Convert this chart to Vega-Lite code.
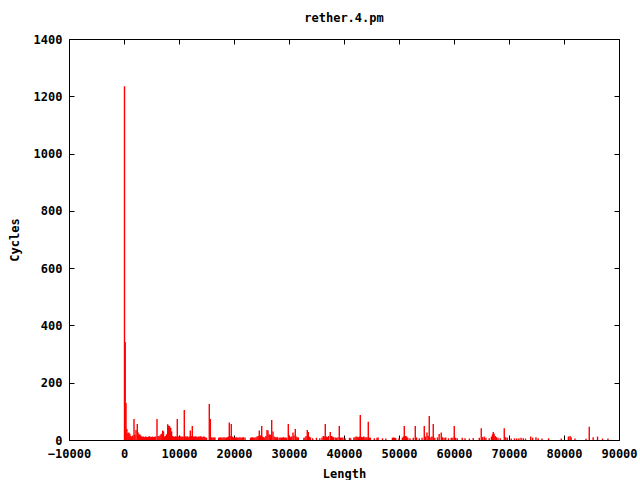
{
  "$schema": "https://vega.github.io/schema/vega-lite/v6.json",
  "width": 550,
  "height": 401,
  "autosize": {"type": "none"},
  "padding": {"left": 69, "top": 39, "right": 21, "bottom": 40},
  "background": "white",
  "title": {"text": "rether.4.pm", "font": "DejaVu Sans Mono", "fontSize": 12, "fontWeight": "bold", "color": "black", "offset": 8},
  "config": {
    "view": {"stroke": "black", "strokeWidth": 1},
    "axis": {
      "labelFont": "DejaVu Sans Mono", "labelFontSize": 12, "labelFontWeight": "bold", "labelColor": "black",
      "titleFont": "DejaVu Sans Mono", "titleFontSize": 12, "titleFontWeight": "bold", "titleColor": "black",
      "grid": false, "domain": false, "tickColor": "black", "tickSize": -5, "labelPadding": 12
    }
  },
  "data": {"values": [
    {"Length": 91, "Cycles": 1235}, {"Length": 218, "Cycles": 342}, {"Length": 364, "Cycles": 129}, {"Length": 520, "Cycles": 38},
    {"Length": 700, "Cycles": 24}, {"Length": 880, "Cycles": 26}, {"Length": 1060, "Cycles": 22}, {"Length": 1240, "Cycles": 14},
    {"Length": 1420, "Cycles": 12}, {"Length": 1600, "Cycles": 16}, {"Length": 1818, "Cycles": 73}, {"Length": 1960, "Cycles": 18},
    {"Length": 2182, "Cycles": 35}, {"Length": 2418, "Cycles": 56}, {"Length": 2560, "Cycles": 26}, {"Length": 2700, "Cycles": 18},
    {"Length": 2860, "Cycles": 20}, {"Length": 3040, "Cycles": 16}, {"Length": 3220, "Cycles": 12}, {"Length": 3400, "Cycles": 11},
    {"Length": 3580, "Cycles": 12}, {"Length": 3760, "Cycles": 10}, {"Length": 3940, "Cycles": 12}, {"Length": 4120, "Cycles": 11},
    {"Length": 4300, "Cycles": 10}, {"Length": 4480, "Cycles": 12}, {"Length": 4660, "Cycles": 13}, {"Length": 4840, "Cycles": 10},
    {"Length": 5020, "Cycles": 11}, {"Length": 5200, "Cycles": 12}, {"Length": 5380, "Cycles": 10}, {"Length": 5560, "Cycles": 11},
    {"Length": 5740, "Cycles": 12}, {"Length": 6000, "Cycles": 73}, {"Length": 6180, "Cycles": 14}, {"Length": 6360, "Cycles": 12},
    {"Length": 6540, "Cycles": 16}, {"Length": 6720, "Cycles": 20}, {"Length": 6880, "Cycles": 22}, {"Length": 7036, "Cycles": 33},
    {"Length": 7181, "Cycles": 30}, {"Length": 7360, "Cycles": 12}, {"Length": 7540, "Cycles": 14}, {"Length": 7720, "Cycles": 20},
    {"Length": 7945, "Cycles": 55}, {"Length": 8127, "Cycles": 50}, {"Length": 8309, "Cycles": 48}, {"Length": 8490, "Cycles": 42},
    {"Length": 8660, "Cycles": 30}, {"Length": 8820, "Cycles": 14}, {"Length": 9000, "Cycles": 12}, {"Length": 9180, "Cycles": 11},
    {"Length": 9360, "Cycles": 13}, {"Length": 9520, "Cycles": 12}, {"Length": 9690, "Cycles": 73}, {"Length": 9860, "Cycles": 12},
    {"Length": 10040, "Cycles": 11}, {"Length": 10220, "Cycles": 13}, {"Length": 10400, "Cycles": 12}, {"Length": 10580, "Cycles": 11},
    {"Length": 10760, "Cycles": 12}, {"Length": 10963, "Cycles": 105}, {"Length": 11140, "Cycles": 12}, {"Length": 11320, "Cycles": 11},
    {"Length": 11500, "Cycles": 13}, {"Length": 11680, "Cycles": 10}, {"Length": 11860, "Cycles": 12}, {"Length": 12054, "Cycles": 33},
    {"Length": 12240, "Cycles": 14}, {"Length": 12418, "Cycles": 49}, {"Length": 12600, "Cycles": 12}, {"Length": 12780, "Cycles": 11},
    {"Length": 12960, "Cycles": 13}, {"Length": 13140, "Cycles": 12}, {"Length": 13320, "Cycles": 10}, {"Length": 13500, "Cycles": 12},
    {"Length": 13680, "Cycles": 11}, {"Length": 13860, "Cycles": 13}, {"Length": 14040, "Cycles": 12}, {"Length": 14220, "Cycles": 10},
    {"Length": 14400, "Cycles": 11}, {"Length": 14580, "Cycles": 12}, {"Length": 14760, "Cycles": 10}, {"Length": 15000, "Cycles": 8},
    {"Length": 15508, "Cycles": 126}, {"Length": 15690, "Cycles": 73}, {"Length": 15860, "Cycles": 10}, {"Length": 16000, "Cycles": 9},
    {"Length": 16200, "Cycles": 8}, {"Length": 16360, "Cycles": 10}, {"Length": 16540, "Cycles": 9}, {"Length": 17200, "Cycles": 8},
    {"Length": 17400, "Cycles": 9}, {"Length": 17600, "Cycles": 10}, {"Length": 17800, "Cycles": 8}, {"Length": 18000, "Cycles": 9},
    {"Length": 18200, "Cycles": 10}, {"Length": 18400, "Cycles": 8}, {"Length": 18600, "Cycles": 9}, {"Length": 18800, "Cycles": 10},
    {"Length": 19000, "Cycles": 12}, {"Length": 19145, "Cycles": 61}, {"Length": 19300, "Cycles": 14}, {"Length": 19508, "Cycles": 56},
    {"Length": 19700, "Cycles": 12}, {"Length": 19900, "Cycles": 9}, {"Length": 20100, "Cycles": 8}, {"Length": 20300, "Cycles": 9},
    {"Length": 20500, "Cycles": 10}, {"Length": 20700, "Cycles": 8}, {"Length": 20900, "Cycles": 9}, {"Length": 21100, "Cycles": 10},
    {"Length": 21300, "Cycles": 8}, {"Length": 21500, "Cycles": 9}, {"Length": 21700, "Cycles": 10}, {"Length": 22000, "Cycles": 9},
    {"Length": 23000, "Cycles": 8}, {"Length": 23200, "Cycles": 9}, {"Length": 23400, "Cycles": 10}, {"Length": 23600, "Cycles": 8},
    {"Length": 23800, "Cycles": 9}, {"Length": 24000, "Cycles": 10}, {"Length": 24200, "Cycles": 12}, {"Length": 24400, "Cycles": 14},
    {"Length": 24599, "Cycles": 33}, {"Length": 24800, "Cycles": 16}, {"Length": 25035, "Cycles": 49}, {"Length": 25200, "Cycles": 12},
    {"Length": 25400, "Cycles": 10}, {"Length": 25600, "Cycles": 9}, {"Length": 25800, "Cycles": 14}, {"Length": 26000, "Cycles": 35},
    {"Length": 26180, "Cycles": 33}, {"Length": 26400, "Cycles": 20}, {"Length": 26600, "Cycles": 18}, {"Length": 26853, "Cycles": 70},
    {"Length": 27090, "Cycles": 30}, {"Length": 27300, "Cycles": 12}, {"Length": 27500, "Cycles": 10}, {"Length": 27700, "Cycles": 9},
    {"Length": 27900, "Cycles": 10}, {"Length": 28200, "Cycles": 8}, {"Length": 28400, "Cycles": 9}, {"Length": 28600, "Cycles": 8},
    {"Length": 28800, "Cycles": 9}, {"Length": 29000, "Cycles": 10}, {"Length": 29200, "Cycles": 8}, {"Length": 29400, "Cycles": 9},
    {"Length": 29600, "Cycles": 8}, {"Length": 29871, "Cycles": 56}, {"Length": 30100, "Cycles": 14}, {"Length": 30300, "Cycles": 10},
    {"Length": 30500, "Cycles": 12}, {"Length": 30725, "Cycles": 26}, {"Length": 30900, "Cycles": 16}, {"Length": 31144, "Cycles": 38},
    {"Length": 31300, "Cycles": 12}, {"Length": 31500, "Cycles": 10}, {"Length": 31700, "Cycles": 9}, {"Length": 32700, "Cycles": 8},
    {"Length": 32900, "Cycles": 9}, {"Length": 33100, "Cycles": 14}, {"Length": 33325, "Cycles": 35}, {"Length": 33507, "Cycles": 28},
    {"Length": 33700, "Cycles": 12}, {"Length": 33900, "Cycles": 9}, {"Length": 34300, "Cycles": 6}, {"Length": 35000, "Cycles": 8},
    {"Length": 35600, "Cycles": 6}, {"Length": 36000, "Cycles": 9}, {"Length": 36233, "Cycles": 14}, {"Length": 36400, "Cycles": 12},
    {"Length": 36597, "Cycles": 56}, {"Length": 36800, "Cycles": 12}, {"Length": 37000, "Cycles": 10}, {"Length": 37200, "Cycles": 14},
    {"Length": 37505, "Cycles": 28}, {"Length": 37700, "Cycles": 14}, {"Length": 37900, "Cycles": 12}, {"Length": 38100, "Cycles": 10},
    {"Length": 38400, "Cycles": 9}, {"Length": 38600, "Cycles": 8}, {"Length": 38900, "Cycles": 10}, {"Length": 39143, "Cycles": 49},
    {"Length": 39400, "Cycles": 9}, {"Length": 39600, "Cycles": 8}, {"Length": 39800, "Cycles": 9}, {"Length": 40200, "Cycles": 6},
    {"Length": 41000, "Cycles": 8}, {"Length": 41200, "Cycles": 6}, {"Length": 41800, "Cycles": 9}, {"Length": 42000, "Cycles": 10},
    {"Length": 42200, "Cycles": 12}, {"Length": 42400, "Cycles": 11}, {"Length": 42600, "Cycles": 10}, {"Length": 42800, "Cycles": 12},
    {"Length": 42960, "Cycles": 87}, {"Length": 43200, "Cycles": 11}, {"Length": 43400, "Cycles": 10}, {"Length": 43600, "Cycles": 12},
    {"Length": 43800, "Cycles": 10}, {"Length": 44000, "Cycles": 9}, {"Length": 44200, "Cycles": 10}, {"Length": 44415, "Cycles": 64},
    {"Length": 44600, "Cycles": 9}, {"Length": 44800, "Cycles": 8}, {"Length": 45500, "Cycles": 6}, {"Length": 46000, "Cycles": 8},
    {"Length": 46200, "Cycles": 9}, {"Length": 47000, "Cycles": 6}, {"Length": 47600, "Cycles": 5}, {"Length": 48800, "Cycles": 8},
    {"Length": 49000, "Cycles": 9}, {"Length": 49200, "Cycles": 8}, {"Length": 49400, "Cycles": 7}, {"Length": 50000, "Cycles": 6},
    {"Length": 50600, "Cycles": 8}, {"Length": 50800, "Cycles": 12}, {"Length": 50959, "Cycles": 49}, {"Length": 51200, "Cycles": 14},
    {"Length": 51400, "Cycles": 12}, {"Length": 51600, "Cycles": 8}, {"Length": 52000, "Cycles": 6}, {"Length": 52600, "Cycles": 8},
    {"Length": 52959, "Cycles": 49}, {"Length": 53200, "Cycles": 9}, {"Length": 53700, "Cycles": 6}, {"Length": 54200, "Cycles": 8},
    {"Length": 54595, "Cycles": 49}, {"Length": 54800, "Cycles": 12}, {"Length": 55085, "Cycles": 26}, {"Length": 55300, "Cycles": 14},
    {"Length": 55503, "Cycles": 84}, {"Length": 55800, "Cycles": 10}, {"Length": 56000, "Cycles": 12}, {"Length": 56230, "Cycles": 56},
    {"Length": 56500, "Cycles": 8}, {"Length": 57000, "Cycles": 9}, {"Length": 57300, "Cycles": 21}, {"Length": 57685, "Cycles": 26},
    {"Length": 57900, "Cycles": 10}, {"Length": 58200, "Cycles": 8}, {"Length": 58500, "Cycles": 9}, {"Length": 59000, "Cycles": 6},
    {"Length": 59500, "Cycles": 8}, {"Length": 59800, "Cycles": 9}, {"Length": 60048, "Cycles": 49}, {"Length": 60300, "Cycles": 8},
    {"Length": 60600, "Cycles": 6}, {"Length": 61500, "Cycles": 8}, {"Length": 62000, "Cycles": 6}, {"Length": 62800, "Cycles": 5},
    {"Length": 63500, "Cycles": 7}, {"Length": 64600, "Cycles": 8}, {"Length": 64957, "Cycles": 41}, {"Length": 65200, "Cycles": 10},
    {"Length": 65500, "Cycles": 12}, {"Length": 65800, "Cycles": 8}, {"Length": 66400, "Cycles": 6}, {"Length": 66800, "Cycles": 12},
    {"Length": 67000, "Cycles": 20}, {"Length": 67138, "Cycles": 28}, {"Length": 67300, "Cycles": 22}, {"Length": 67500, "Cycles": 14},
    {"Length": 67700, "Cycles": 10}, {"Length": 68000, "Cycles": 8}, {"Length": 68400, "Cycles": 6}, {"Length": 69138, "Cycles": 41},
    {"Length": 69400, "Cycles": 10}, {"Length": 69700, "Cycles": 8}, {"Length": 70400, "Cycles": 5}, {"Length": 71000, "Cycles": 6},
    {"Length": 71400, "Cycles": 5}, {"Length": 71800, "Cycles": 6}, {"Length": 72200, "Cycles": 8}, {"Length": 72600, "Cycles": 6},
    {"Length": 73000, "Cycles": 5}, {"Length": 73937, "Cycles": 12}, {"Length": 74300, "Cycles": 8}, {"Length": 74900, "Cycles": 10},
    {"Length": 75300, "Cycles": 6}, {"Length": 76000, "Cycles": 5}, {"Length": 77200, "Cycles": 6}, {"Length": 79500, "Cycles": 5},
    {"Length": 80800, "Cycles": 12}, {"Length": 81100, "Cycles": 14}, {"Length": 81300, "Cycles": 10}, {"Length": 82000, "Cycles": 5},
    {"Length": 84000, "Cycles": 4}, {"Length": 84592, "Cycles": 46}, {"Length": 85300, "Cycles": 10}, {"Length": 86100, "Cycles": 12},
    {"Length": 87000, "Cycles": 5}, {"Length": 87991, "Cycles": 5}
  ]},
  "layer": [
    {
      "mark": {"type": "rule", "color": "#ff0000", "strokeWidth": 1.4},
      "encoding": {
        "x": {"field": "Length", "type": "quantitative",
              "scale": {"domain": [-10000, 90000], "nice": false, "zero": false},
              "axis": {"values": [-10000, 0, 10000, 20000, 30000, 40000, 50000, 60000, 70000, 80000, 90000], "format": "d", "title": "Length", "titlePadding": 9, "labelPadding": 13, "labelFlush": false}},
        "y": {"field": "Cycles", "type": "quantitative",
              "scale": {"domain": [0, 1400], "nice": false},
              "axis": {"values": [0, 200, 400, 600, 800, 1000, 1200, 1400], "format": "d", "title": "Cycles", "titlePadding": 12}},
        "y2": {"datum": 0}
      }
    },
    {
      "mark": {"type": "rule", "opacity": 0},
      "encoding": {
        "x": {"field": "Length", "type": "quantitative",
              "axis": {"orient": "top", "values": [-10000, 0, 10000, 20000, 30000, 40000, 50000, 60000, 70000, 80000, 90000], "labels": false, "title": null}},
        "y": {"field": "Cycles", "type": "quantitative",
              "axis": {"orient": "right", "values": [0, 200, 400, 600, 800, 1000, 1200, 1400], "labels": false, "title": null}},
        "y2": {"datum": 0}
      }
    }
  ],
  "resolve": {"axis": {"x": "independent", "y": "independent"}}
}
